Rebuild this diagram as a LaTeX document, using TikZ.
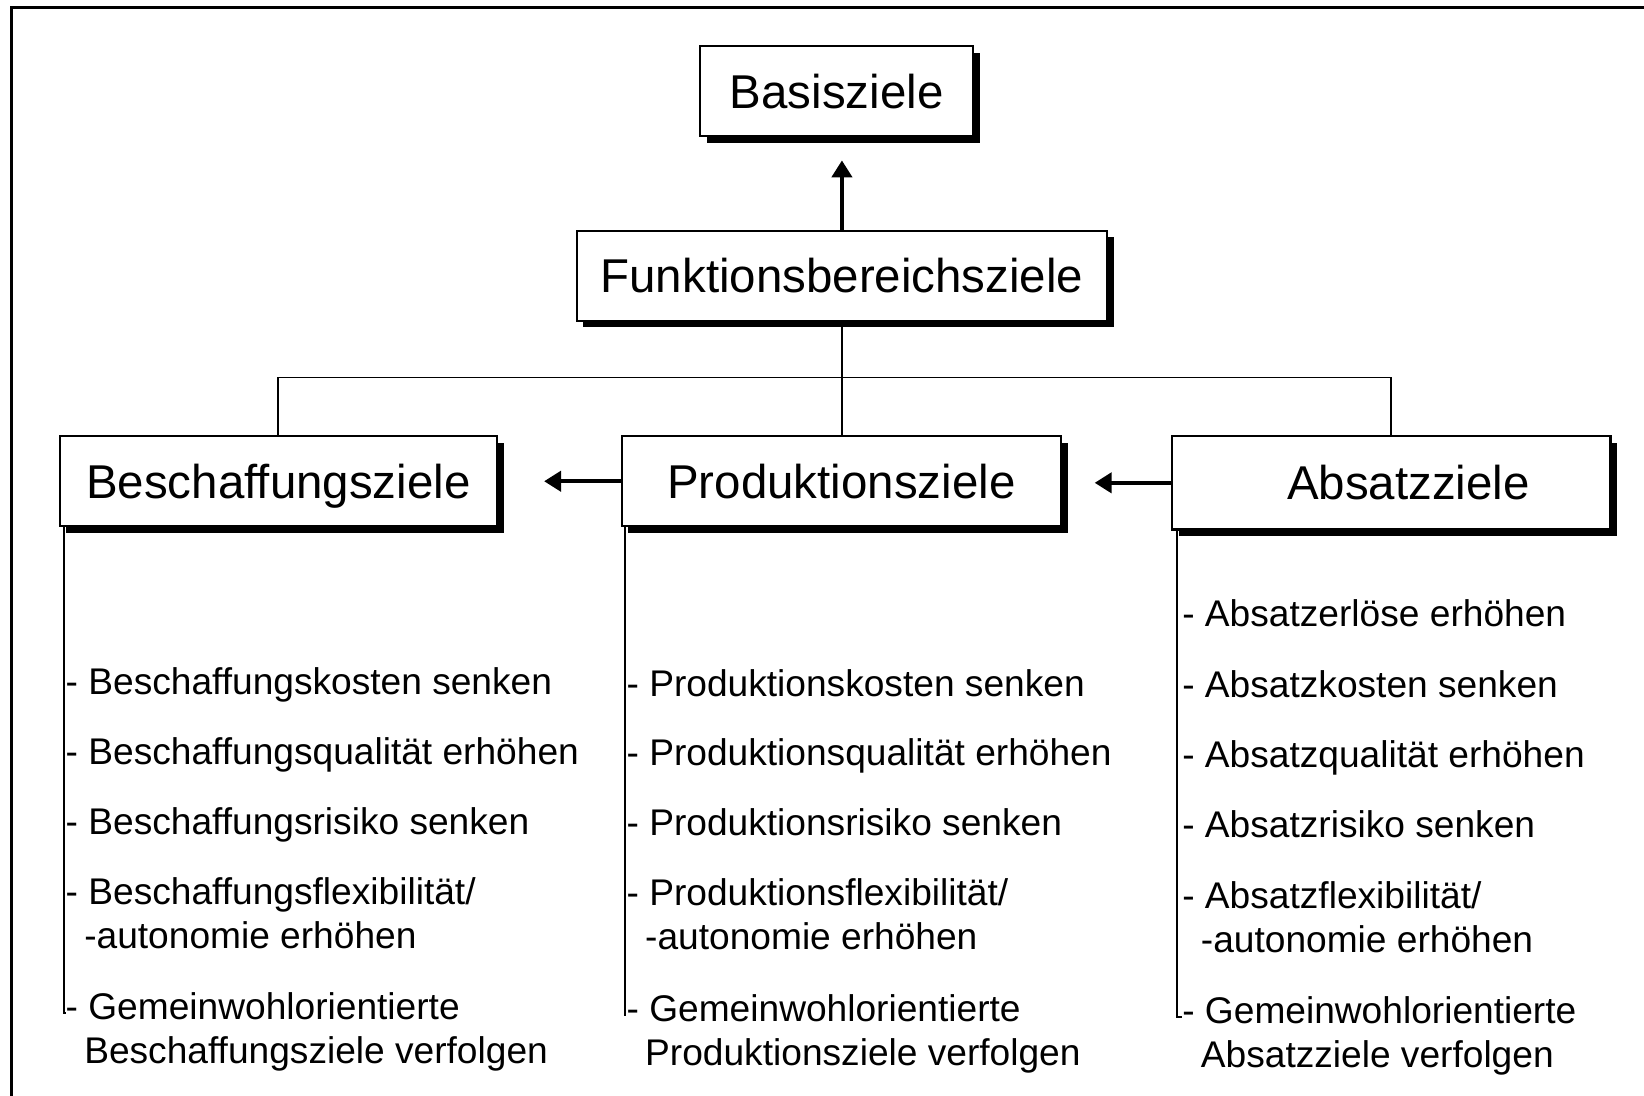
\documentclass[tikz,border=0pt]{standalone}
\usepackage{fontspec}
\setmainfont{Liberation Sans}
\usetikzlibrary{arrows.meta,shadows}

\begin{document}
\begin{tikzpicture}[x=0.010485cm, y=-0.010485cm,
		ziel/.style={draw, line width=0.6pt, fill=white, minimum height=0.902cm, inner sep=0pt,
			font=\fontsize{13.5}{16}\selectfont, text height=0.34cm, text depth=0pt,
			drop shadow={shadow xshift=0.065cm, shadow yshift=-0.065cm, fill=black, opacity=1}},
		punkt/.style={anchor=base west, inner sep=0pt, align=left, font=\fontsize{10.56}{12.5}\selectfont},
		pfeil/.style={line width=1.2pt, -{Triangle[length=0.17cm, width=0.2cm]}},
		linie/.style={line width=0.5pt}]
	\useasboundingbox (0,0) rectangle (1568,1045);

	% Rahmen
		\draw[line width=0.9pt] (11,1060) -- (11,7) -- (1580,7);

	% Kaesten
		\node[ziel, minimum width=2.726cm] (basis) at (798,87) {Basisziele};
		\node[ziel, minimum width=5.305cm] (funk) at (803,263) {Funktionsbereichsziele};
		\node[ziel, minimum width=4.372cm] (besch) at (265.5,459) {Beschaffungsziele};
		\node[ziel, minimum width=4.393cm] (prod) at (802.5,459) {Produktionsziele};
		\node[ziel, minimum width=4.383cm, minimum height=0.933cm] (absatz) at (1327,460.5) {\hspace*{0.34cm}Absatzziele};

	% Pfeile
		\draw[pfeil, shorten >=0.23cm] (funk.north) -- (funk.north |- basis.south);
		\draw[pfeil, shorten >=0.46cm] (prod.west) -- (besch.east);
		\draw[pfeil, shorten >=0.325cm] (absatz.west) -- (prod.east |- absatz.west);

	% Baum
		\draw[linie] (funk.south) -- (funk.south |- prod.north);
		\draw[linie] (besch.north) -- ++(0,-55) -| (absatz.north);

	% Beschaffung (zweizeilige Punkte: Grundlinie der zweiten Zeile)
		\node[punkt] (b1) at (62,662) {- Beschaffungskosten senken};
		\node[punkt] (b2) at (62,729) {- Beschaffungsqualität erhöhen};
		\node[punkt] (b3) at (62,796) {- Beschaffungsrisiko senken};
		\node[punkt] (b4) at (62,905) {- Beschaffungsflexibilität/\\\hspace*{0.5em}-autonomie erhöhen};
		\node[punkt] (b5) at (62,1014) {- Gemeinwohlorientierte\\\hspace*{0.5em}Beschaffungsziele verfolgen};
		\draw[linie] ([xshift=0.05cm]besch.south west) |- ([xshift=0.005cm, yshift=0.5cm]b5.base west);

	% Produktion
		\node[punkt] (p1) at (597,664) {- Produktionskosten senken};
		\node[punkt] (p2) at (597,730) {- Produktionsqualität erhöhen};
		\node[punkt] (p3) at (597,797) {- Produktionsrisiko senken};
		\node[punkt] (p4) at (597,906) {- Produktionsflexibilität/\\\hspace*{0.5em}-autonomie erhöhen};
		\node[punkt] (p5) at (597,1016) {- Gemeinwohlorientierte\\\hspace*{0.5em}Produktionsziele verfolgen};
		\draw[linie] ([xshift=0.04cm]prod.south west) |- ([xshift=0.005cm, yshift=0.5cm]p5.base west);

	% Absatz
		\node[punkt] (a1) at (1127,598) {- Absatzerlöse erhöhen};
		\node[punkt] (a2) at (1127,665) {- Absatzkosten senken};
		\node[punkt] (a3) at (1127,732) {- Absatzqualität erhöhen};
		\node[punkt] (a4) at (1127,799) {- Absatzrisiko senken};
		\node[punkt] (a5) at (1127,908) {- Absatzflexibilität/\\\hspace*{0.5em}-autonomie erhöhen};
		\node[punkt] (a6) at (1127,1018) {- Gemeinwohlorientierte\\\hspace*{0.5em}Absatzziele verfolgen};
		\draw[linie] ([xshift=0.06cm]absatz.south west) |- ([xshift=0.005cm, yshift=0.5cm]a6.base west);
\end{tikzpicture}
\end{document}
